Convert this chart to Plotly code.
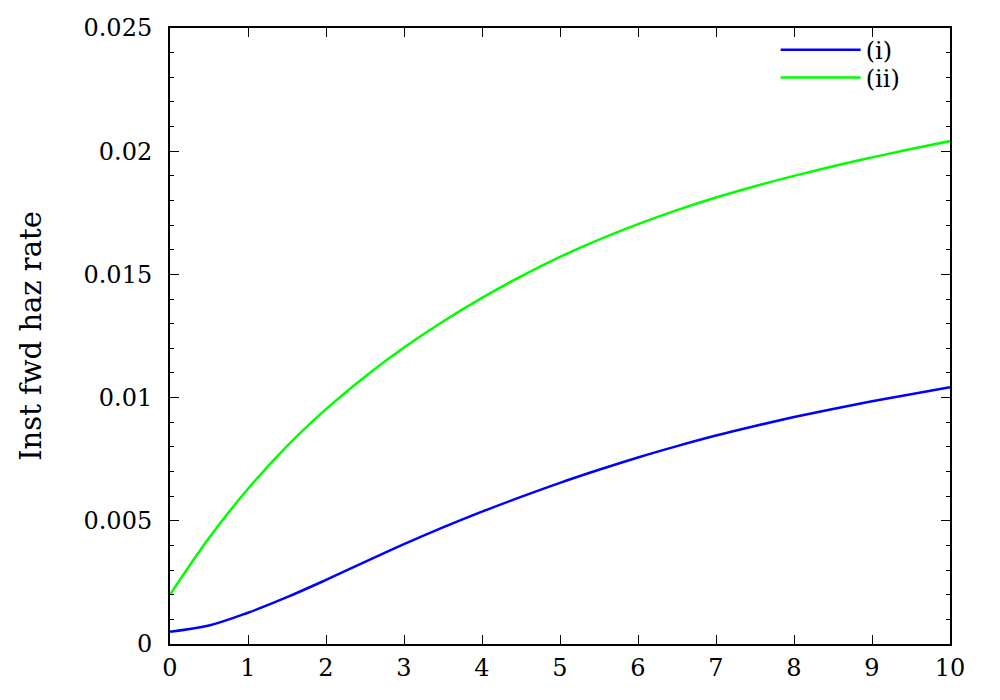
import plotly.graph_objects as go

# maturity in years
t = [0, 0.5, 1, 1.5, 2, 2.5, 3, 3.5, 4, 4.5, 5, 5.5, 6, 6.5, 7, 7.5, 8, 8.5, 9, 9.5, 10]

# instantaneous forward hazard rate, two scenarios
haz_i = [0.0005, 0.00075, 0.00127, 0.0019, 0.0026, 0.00333, 0.00405, 0.00473,
         0.00537, 0.00597, 0.00654, 0.00707, 0.00757, 0.00803, 0.00846, 0.00885,
         0.00921, 0.00954, 0.00985, 0.01014, 0.01042]
haz_ii = [0.002, 0.0043, 0.0063, 0.00803, 0.00953, 0.01085, 0.01203, 0.01309,
          0.01405, 0.01492, 0.01571, 0.01641, 0.01704, 0.01761, 0.01812, 0.01858,
          0.019, 0.01939, 0.01975, 0.02009, 0.02041]

x_ticks = list(range(0, 11))
y_ticks = [0, 0.005, 0.01, 0.015, 0.02, 0.025]
y_tick_text = ["0", "0.005", "0.01", "0.015", "0.02", "0.025"]

font_family = "DejaVu Serif"

fig = go.Figure()

fig.add_trace(go.Scatter(
    x=t, y=haz_i, mode="lines", name="(i)", legend="legend",
    line=dict(color="#0000ff", width=2.5, shape="spline", smoothing=1.0),
))
fig.add_trace(go.Scatter(
    x=t, y=haz_ii, mode="lines", name="(ii)", legend="legend2",
    line=dict(color="#00ff00", width=2.5, shape="spline", smoothing=1.0),
))

# one legend per entry so the rows sit as close together as in gnuplot's key
legend_style = dict(
    x=0.7765, xanchor="left", yanchor="middle",
    bgcolor="rgba(0,0,0,0)",
    font=dict(size=24),
    itemwidth=80,
)

fig.update_layout(
    width=1000,
    height=700,
    # the page adds 8px of body margin, so shift the plot area accordingly
    margin=dict(l=162, r=58, t=20, b=64),
    plot_bgcolor="white",
    paper_bgcolor="white",
    font=dict(family=font_family, size=24, color="black"),
    showlegend=True,
    legend=dict(legend_style, y=0.964),
    legend2=dict(legend_style, y=0.919),
    xaxis=dict(
        range=[0, 10],
        tickvals=x_ticks,
        ticks="inside",
        ticklen=9,
        tickwidth=1,
        tickcolor="black",
        showline=True,
        linecolor="black",
        linewidth=2,
        mirror="allticks",
        showgrid=False,
        zeroline=False,
        automargin=False,
        ticklabelstandoff=1,
    ),
    yaxis=dict(
        range=[0, 0.025],
        tickvals=y_ticks,
        ticktext=y_tick_text,
        ticks="inside",
        ticklen=9,
        tickwidth=1,
        tickcolor="black",
        showline=True,
        linecolor="black",
        linewidth=2,
        mirror="allticks",
        showgrid=False,
        zeroline=False,
        automargin=False,
        ticklabelstandoff=11,
        minor=dict(dtick=0.001, ticks="inside", ticklen=4, tickcolor="black", tickwidth=1),
        title=dict(text="Inst fwd haz rate", standoff=33),
    ),
)

fig.write_html("out.html")
